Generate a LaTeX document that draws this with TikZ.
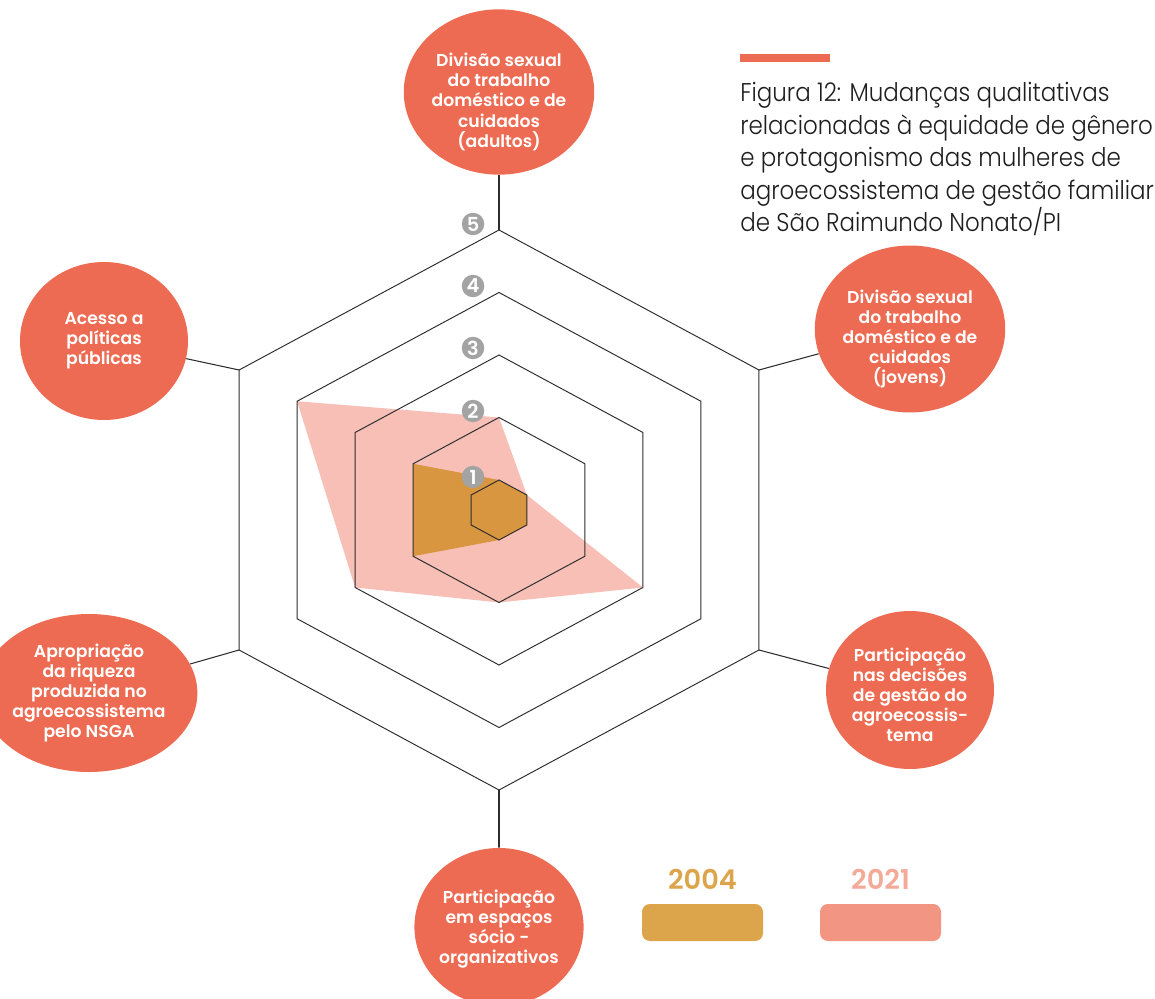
\documentclass[tikz,border=0pt]{standalone}
\usepackage{fontspec}
\setmainfont{Poppins}
\newfontfamily\lightfont{Poppins Light}[FakeStretch=0.895]
\newfontfamily\semifont{Poppins SemiBold}
\usetikzlibrary{shapes.geometric}
\definecolor{coral}{RGB}{237,107,82}
\definecolor{fillpink}{RGB}{247,191,182}
\definecolor{fillgold}{RGB}{217,150,64}
\definecolor{legold}{RGB}{220,165,75}
\definecolor{legpink}{RGB}{242,150,131}
\definecolor{yearpink}{RGB}{244,170,152}
\definecolor{markgray}{RGB}{163,163,163}
\definecolor{gridgray}{RGB}{45,45,45}
\definecolor{inkblack}{RGB}{30,30,30}
\newcommand{\dropby}[1]{\rule{0pt}{#1}}
\begin{document}
\begin{tikzpicture}[scale=0.2]
	\tikzstyle{every node}+=[inner sep=0pt]
	\tikzstyle{topic}=[ellipse, fill=coral, text=white, minimum width=3.36cm, minimum height=3.16cm, align=center, font=\semifont\fontsize{9.8}{11.4}\selectfont]
	\tikzstyle{grid}=[draw=gridgray, line width=0.55pt, line join=miter]
	\tikzstyle{spoke}=[draw=gridgray, line width=0.6pt]
	\tikzstyle{mainspoke}=[draw=gridgray, line width=1.1pt]
	\tikzstyle{levelmark}=[circle, fill=markgray, text=white, minimum size=0.45cm, font=\semifont\fontsize{11}{11}\selectfont]
	\tikzstyle{yeartext}=[anchor=base, font=\semifont\fontsize{15.5}{15.5}\selectfont]
	\useasboundingbox (0,0) rectangle (115.5,-99.9);
	\begin{scope}[shift={(49.9,-51.0)},xscale=1.072]
	\fill [fillpink] (90:9.25) -- (30:3) -- (-30:15.5) -- (-90:9.25) -- (-150:15.5) -- (150:21.75) -- cycle;
	\fill [fillgold] (90:3) -- (30:3) -- (-30:3) -- (-90:3) -- (-150:9.25) -- (150:9.25) -- cycle;
	\draw [grid] (90:3) -- (30:3) -- (-30:3) -- (-90:3) -- (-150:3) -- (150:3) -- cycle;
	\draw [grid] (90:9.25) -- (30:9.25) -- (-30:9.25) -- (-90:9.25) -- (-150:9.25) -- (150:9.25) -- cycle;
	\draw [grid] (90:15.5) -- (30:15.5) -- (-30:15.5) -- (-90:15.5) -- (-150:15.5) -- (150:15.5) -- cycle;
	\draw [grid] (90:21.75) -- (30:21.75) -- (-30:21.75) -- (-90:21.75) -- (-150:21.75) -- (150:21.75) -- cycle;
	\draw [grid] (90:28) -- (30:28) -- (-30:28) -- (-90:28) -- (-150:28) -- (150:28) -- cycle;
	\coordinate (tip-n) at (90:28);
	\coordinate (tip-ne) at (30:28);
	\coordinate (tip-se) at (-30:28);
	\coordinate (tip-s) at (-90:28);
	\coordinate (tip-sw) at (-150:28);
	\coordinate (tip-nw) at (150:28);
	\end{scope}
	\node [levelmark] (lv1) at (47.3,-47.7) {1};
	\node [levelmark] (lv2) at (47.3,-41.1) {2};
	\node [levelmark] (lv3) at (47.3,-34.8) {3};
	\node [levelmark] (lv4) at (47.3,-28.6) {4};
	\node [levelmark] (lv5) at (47.3,-22.4) {5};
	\node [topic] (adultos) at (49.9,-9.2) {\dropby{19pt}Divisão sexual\\do trabalho\\doméstico e de\\cuidados\\(adultos)};
	\node [topic] (jovens) at (91.0,-32.9) {\dropby{19pt}Divisão sexual\\do trabalho\\doméstico e de\\cuidados\\(jovens)};
	\node [topic] (gestao) at (91.0,-69.0) {\dropby{13.5pt}Participação\\nas decisões\\de gestão do\\agroecossis-\\tema};
	\node [topic] (espacos) at (49.9,-92.7) {\dropby{10pt}Participação\\em espaços\\sócio -\\organizativos};
	\node [topic] (riqueza) at (8.9,-69.3) {Apropriação\\da riqueza\\produzida no\\agroecossistema\\pelo NSGA};
	\node [topic] (politicas) at (10.4,-34.1) {Acesso a\\políticas\\públicas};
	\draw [mainspoke] (tip-n) -- (adultos);
	\draw [spoke] (tip-ne) -- (jovens);
	\draw [spoke] (tip-se) -- (gestao);
	\draw [mainspoke] (tip-s) -- (espacos);
	\draw [spoke] (tip-sw) -- (riqueza);
	\draw [spoke] (tip-nw) -- (politicas);
	\fill [coral] (74.0,-5.4) rectangle (83.0,-6.2);
	\node [anchor=north west, align=left, text=inkblack, font=\lightfont\fontsize{14.6}{18.5}\selectfont] (caption) at (74.0,-8.2) {Figura 12: Mudanças qualitativas\\relacionadas à equidade de gênero\\e protagonismo das mulheres de\\agroecossistema de gestão familiar\\de São Raimundo Nonato/PI};
	\node [yeartext, text=legold] (year04) at (70.25,-88.9) {2004};
	\node [yeartext, text=yearpink] (year21) at (88.05,-88.9) {2021};
	\fill [legold, rounded corners=4.5pt] (64.2,-90.4) rectangle (76.3,-94.1);
	\fill [legpink, rounded corners=4.5pt] (82.0,-90.4) rectangle (94.1,-94.1);
\end{tikzpicture}
\end{document}
